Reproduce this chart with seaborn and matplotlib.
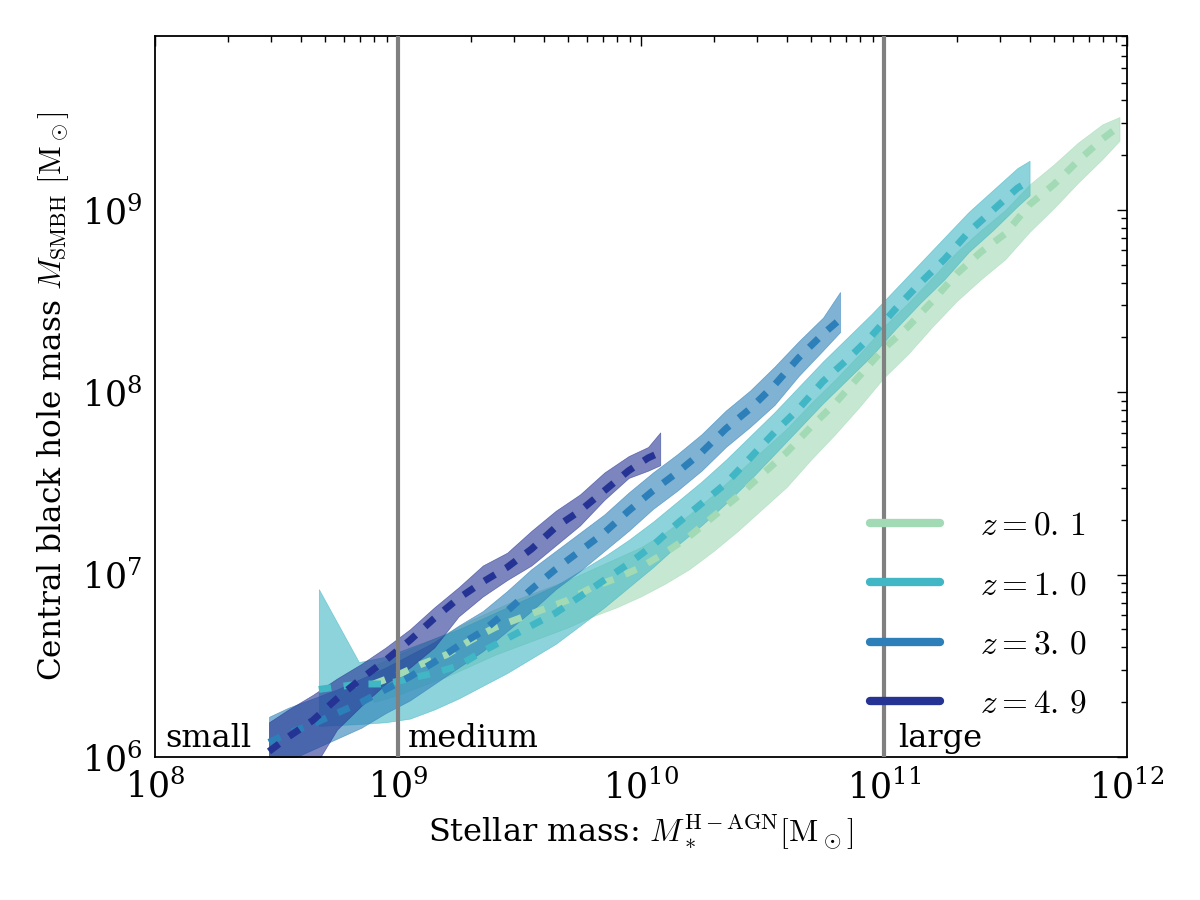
import matplotlib
matplotlib.use("Agg")
import matplotlib.pyplot as plt
import numpy as np
import pandas as pd
import seaborn as sns
from matplotlib.lines import Line2D

# log10 stellar mass, log10 black hole mass: median, upper and lower envelope
z49_logm = [8.47, 8.55, 8.65, 8.75, 8.85, 8.95, 9.05, 9.15, 9.25, 9.35, 9.45, 9.55, 9.65, 9.75, 9.85, 9.95, 10.03, 10.08]
z49_med = [6.03, 6.11, 6.20, 6.32, 6.43, 6.53, 6.64, 6.76, 6.87, 6.96, 7.04, 7.14, 7.26, 7.35, 7.46, 7.57, 7.64, 7.67]
z49_hi = [6.19, 6.26, 6.34, 6.43, 6.51, 6.60, 6.70, 6.82, 6.93, 7.05, 7.12, 7.24, 7.35, 7.44, 7.56, 7.65, 7.70, 7.78]
z49_lo = [5.80, 5.85, 5.93, 6.15, 6.28, 6.40, 6.49, 6.60, 6.77, 6.88, 6.97, 7.05, 7.16, 7.27, 7.41, 7.53, 7.57, 7.60]

z30_logm = [8.47, 8.55, 8.65, 8.75, 8.85, 8.95, 9.05, 9.15, 9.25, 9.35, 9.45, 9.55, 9.65, 9.75, 9.85, 9.95,
            10.05, 10.15, 10.25, 10.35, 10.45, 10.55, 10.65, 10.75, 10.82]
z30_med = [6.08, 6.13, 6.18, 6.24, 6.30, 6.37, 6.44, 6.52, 6.61, 6.69, 6.80, 6.92, 7.03, 7.13, 7.23, 7.35,
           7.46, 7.56, 7.67, 7.80, 7.91, 8.04, 8.19, 8.32, 8.40]
z30_hi = [6.22, 6.27, 6.32, 6.37, 6.43, 6.49, 6.56, 6.63, 6.72, 6.80, 6.91, 7.03, 7.13, 7.23, 7.33, 7.45,
          7.56, 7.66, 7.77, 7.90, 8.01, 8.14, 8.28, 8.41, 8.55]
z30_lo = [5.93, 5.98, 6.04, 6.10, 6.16, 6.24, 6.31, 6.40, 6.49, 6.58, 6.69, 6.80, 6.92, 7.02, 7.13, 7.24,
          7.36, 7.46, 7.57, 7.70, 7.81, 7.93, 8.09, 8.23, 8.33]

z10_logm = [8.675, 8.84, 8.95, 9.05, 9.15, 9.25, 9.35, 9.45, 9.55, 9.65, 9.75, 9.85, 9.95, 10.05, 10.15,
            10.25, 10.35, 10.45, 10.55, 10.65, 10.75, 10.85, 10.95, 11.05, 11.15, 11.25, 11.35, 11.45, 11.55, 11.6]
z10_med = [6.37, 6.40, 6.40, 6.43, 6.46, 6.50, 6.58, 6.65, 6.72, 6.79, 6.88, 6.97, 7.06, 7.16, 7.28,
           7.39, 7.50, 7.64, 7.78, 7.91, 8.06, 8.18, 8.31, 8.46, 8.60, 8.73, 8.88, 9.00, 9.12, 9.16]
z10_hi = [6.92, 6.52, 6.55, 6.60, 6.65, 6.70, 6.76, 6.82, 6.88, 6.94, 7.02, 7.10, 7.19, 7.29, 7.40,
          7.51, 7.63, 7.76, 7.89, 8.03, 8.17, 8.30, 8.43, 8.57, 8.71, 8.85, 8.99, 9.11, 9.23, 9.27]
z10_lo = [6.17, 6.18, 6.19, 6.21, 6.26, 6.32, 6.39, 6.46, 6.54, 6.62, 6.72, 6.82, 6.93, 7.04, 7.16,
          7.27, 7.39, 7.52, 7.66, 7.80, 7.94, 8.07, 8.20, 8.35, 8.49, 8.62, 8.77, 8.89, 9.02, 9.08]

z01_logm = [8.90, 9.00, 9.10, 9.20, 9.30, 9.40, 9.50, 9.60, 9.70, 9.80, 9.90, 10.00, 10.10, 10.20, 10.30, 10.40,
            10.50, 10.60, 10.70, 10.80, 10.90, 11.00, 11.10, 11.20, 11.30, 11.40, 11.50, 11.60, 11.70, 11.80, 11.90, 11.97]
z01_med = [6.40, 6.45, 6.51, 6.56, 6.64, 6.71, 6.76, 6.81, 6.86, 6.93, 6.98, 7.04, 7.12, 7.21, 7.32, 7.43,
           7.55, 7.67, 7.81, 7.94, 8.09, 8.24, 8.36, 8.50, 8.65, 8.77, 8.87, 9.03, 9.14, 9.27, 9.39, 9.46]
z01_hi = [6.50, 6.56, 6.62, 6.68, 6.75, 6.81, 6.87, 6.92, 6.97, 7.03, 7.09, 7.15, 7.23, 7.33, 7.44, 7.56,
          7.68, 7.80, 7.94, 8.07, 8.21, 8.36, 8.49, 8.63, 8.77, 8.89, 9.00, 9.14, 9.25, 9.37, 9.47, 9.51]
z01_lo = [6.30, 6.34, 6.39, 6.44, 6.50, 6.56, 6.61, 6.66, 6.71, 6.77, 6.82, 6.88, 6.95, 7.03, 7.13, 7.24,
          7.36, 7.48, 7.63, 7.77, 7.92, 8.08, 8.21, 8.36, 8.50, 8.62, 8.73, 8.88, 9.01, 9.15, 9.28, 9.38]

labels = [r'$z=0.\,1$', r'$z=1.\,0$', r'$z=3.\,0$', r'$z=4.\,9$']
colors = ['#a1dab4', '#41b6c4', '#2c7fb8', '#253494']
size_bins = [1e9, 1e11]
size_names = ['small', 'medium', 'large']
size_text_x = [1.1e8, 1.1e9, 1.15e11]

series = [
    (z01_logm, z01_med, z01_hi, z01_lo),
    (z10_logm, z10_med, z10_hi, z10_lo),
    (z30_logm, z30_med, z30_hi, z30_lo),
    (z49_logm, z49_med, z49_hi, z49_lo),
]

sns.set_style('white')
plt.rcParams['font.family'] = ['DejaVu Serif']
plt.rcParams['mathtext.fontset'] = 'cm'
plt.rcParams['axes.formatter.use_mathtext'] = True
plt.rcParams['text.color'] = 'black'
plt.rcParams['axes.labelcolor'] = 'black'

fig, ax = plt.subplots(figsize=(12, 9), dpi=100)
fig.subplots_adjust(left=0.129, right=0.939, bottom=0.159, top=0.96)
ax.set_xscale('log')
ax.set_yscale('log')

for (logm, med, hi, lo), col in zip(series, colors):
    ax.fill_between(10 ** np.array(logm), 10 ** np.array(lo), 10 ** np.array(hi),
                    color=col, alpha=0.6, linewidth=0.5, zorder=2)

for (logm, med, hi, lo), col in zip(series, colors):
    df = pd.DataFrame({'mstar': 10 ** np.array(logm), 'mbh': 10 ** np.array(med)})
    sns.lineplot(data=df, x='mstar', y='mbh', ax=ax, color=col, linewidth=5,
                 linestyle=(0, (1.8, 1.8)), zorder=3, legend=False)

for xv in size_bins:
    ax.axvline(xv, color='gray', linewidth=3, zorder=4)
for xt, name in zip(size_text_x, size_names):
    ax.text(xt, 1.04e6, name, fontsize=23, color='black', ha='left', va='bottom', zorder=5)

ax.set_xlim(1e8, 1e12)
ax.set_ylim(1e6, 9e9)
ax.set_xlabel(r'Stellar mass: $M_*^{\rm H-AGN}[\rm M_\odot]$', fontsize=23, labelpad=5, color='black')
ax.set_ylabel(r'Central black hole mass $M_{\rm SMBH}$ $[\rm M_\odot]$', fontsize=22.5, labelpad=8, color='black')

ax.tick_params(which='both', direction='in', top=True, right=True, colors='black', labelcolor='black')
ax.tick_params(which='major', length=7, width=1, labelsize=25, pad=9)
ax.tick_params(which='minor', length=4, width=1)
for sp in ax.spines.values():
    sp.set_linewidth(1.3)
    sp.set_color('black')

handles = [Line2D([0], [0], color=c, linewidth=6) for c in colors]
leg = ax.legend(handles, labels, loc='lower right', frameon=False, fontsize=24,
                handlelength=2.1, handletextpad=1.2, labelspacing=0.82,
                bbox_to_anchor=(0.99, 0.01))
for t in leg.get_texts():
    t.set_color('black')

fig.savefig('out.png', dpi=100)
